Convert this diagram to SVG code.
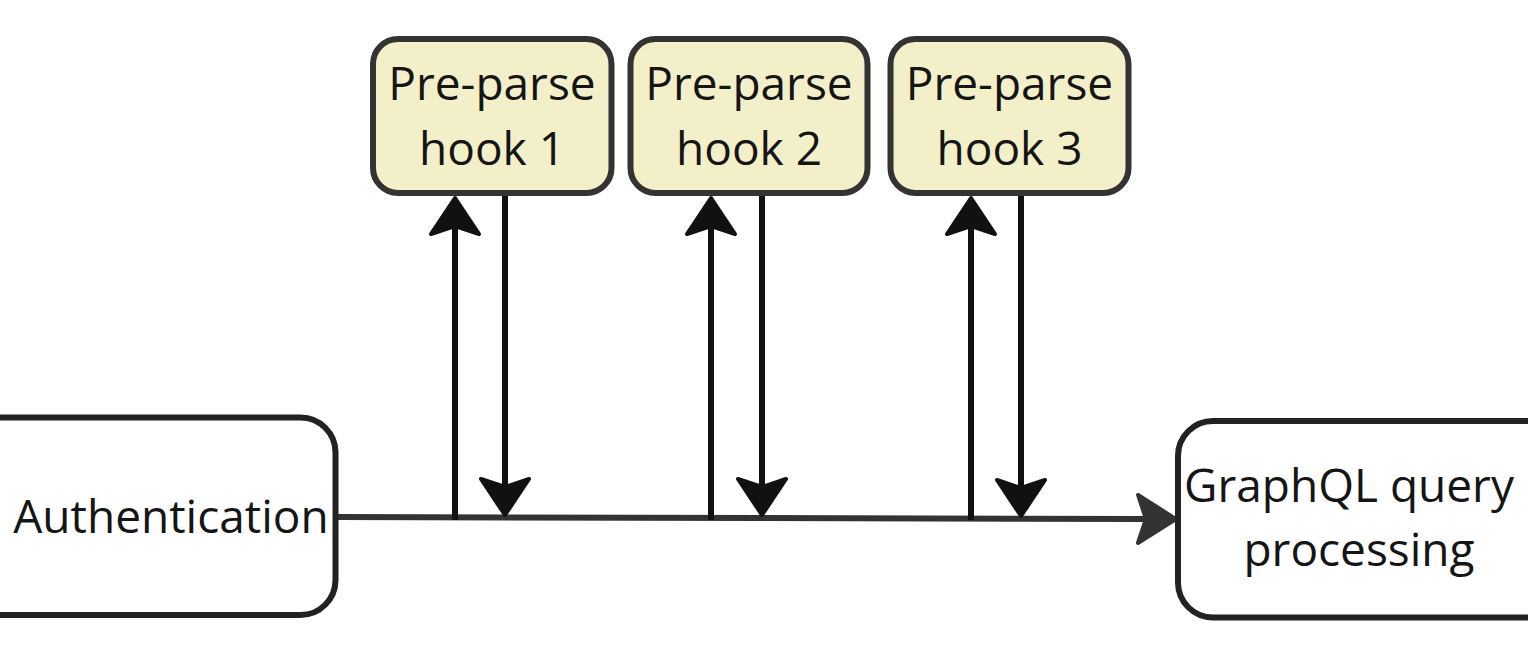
<svg xmlns="http://www.w3.org/2000/svg" width="1528" height="654" viewBox="0 0 1528 654">
  <style>
    .box { fill: #ffffff; stroke: #222222; stroke-width: 6; }
    .hook { fill: #f3f0c9; stroke: #333333; stroke-width: 6; }
    .lbl { font-family: "Open Sans", "Noto Sans", "Liberation Sans", sans-serif; font-size: 46px; fill: #151515; text-anchor: middle; }
    .main { fill: none; stroke: #333333; stroke-width: 6; }
    .hk { fill: none; stroke: #111111; stroke-width: 6; }
  </style>
  <defs>
    <marker id="ahMain" markerUnits="userSpaceOnUse" markerWidth="60" markerHeight="60" refX="12" refY="30" orient="auto" overflow="visible">
      <path d="M4,6 L42,30 L4,54 L12,30 Z" fill="#333333" stroke="#333333" stroke-width="4" stroke-linejoin="round"/>
    </marker>
    <marker id="ahHook" markerUnits="userSpaceOnUse" markerWidth="60" markerHeight="60" refX="12" refY="30" orient="auto" overflow="visible">
      <path d="M4,6 L40,30 L4,54 L12,30 Z" fill="#111111" stroke="#111111" stroke-width="4" stroke-linejoin="round"/>
    </marker>
  </defs>

  <g id="connectors">
    <path class="main" d="M338,517 L1146,519" marker-end="url(#ahMain)"/>
    <path class="hk" d="M455,520 L455,226" marker-end="url(#ahHook)"/>
    <path class="hk" d="M505,196 L505,487" marker-end="url(#ahHook)"/>
    <path class="hk" d="M711,520 L711,226" marker-end="url(#ahHook)"/>
    <path class="hk" d="M762,196 L762,487" marker-end="url(#ahHook)"/>
    <path class="hk" d="M971,520 L971,226" marker-end="url(#ahHook)"/>
    <path class="hk" d="M1021,196 L1021,488" marker-end="url(#ahHook)"/>
  </g>

  <g id="node-authentication">
    <rect class="box" x="-50" y="417.5" width="385.5" height="197.5" rx="35"/>
    <text class="lbl" x="171" y="533">Authentication</text>
  </g>

  <g id="node-hook1">
    <rect class="hook" x="373" y="39" width="238.5" height="154" rx="25"/>
    <text class="lbl" x="492" y="100">Pre-parse</text>
    <text class="lbl" x="492" y="165">hook 1</text>
  </g>

  <g id="node-hook2">
    <rect class="hook" x="630.5" y="39" width="237" height="154" rx="25"/>
    <text class="lbl" x="749" y="100">Pre-parse</text>
    <text class="lbl" x="749" y="165">hook 2</text>
  </g>

  <g id="node-hook3">
    <rect class="hook" x="890.5" y="39" width="238" height="154" rx="25"/>
    <text class="lbl" x="1009.5" y="100">Pre-parse</text>
    <text class="lbl" x="1009.5" y="165">hook 3</text>
  </g>

  <g id="node-graphql">
    <rect class="box" x="1178" y="421" width="400" height="196.5" rx="35"/>
    <text class="lbl" x="1349" y="502">GraphQL query</text>
    <text class="lbl" x="1359" y="566">processing</text>
  </g>
</svg>
